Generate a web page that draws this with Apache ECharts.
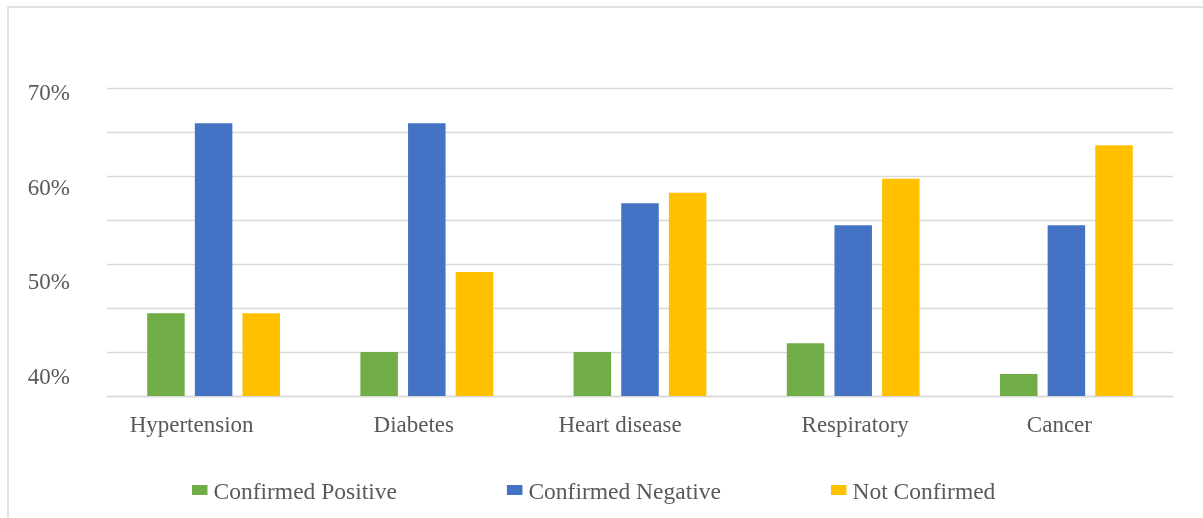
<!DOCTYPE html>
<html>
<head>
<meta charset="utf-8">
<title>Confirmation status by condition</title>
<script src="https://cdn.jsdelivr.net/npm/echarts@6/dist/echarts.min.js"></script>
<style>
  html, body { margin: 0; padding: 0; background: #ffffff; }
  #chart { width: 1203px; height: 518px; }
</style>
</head>
<body>
<div id="chart"></div>
<script>
// Conditions along the x axis
const categories = ['Hypertension', 'Diabetes', 'Heart disease', 'Respiratory', 'Cancer'];

// Share of respondents (%) per confirmation status
const confirmedPositive = [44.4, 40.0, 40.0, 41.0, 37.5];
const confirmedNegative = [66.0, 66.0, 56.9, 54.4, 54.4];
const notConfirmed      = [44.4, 49.1, 58.1, 59.7, 63.5];

const seriesNames = ['Confirmed Positive', 'Confirmed Negative', 'Not Confirmed'];

// Percent labels printed on the left axis
const yTickLabels = [40, 50, 60, 70];

// Styling
const TEXT = '#595959';
const GRID_LINE = '#d9d9d9';
const FONT = '"Liberation Serif", "Times New Roman", serif';
const COLORS = ['#70ad47', '#4472c4', '#ffc000'];

// Small horizontal nudges for the category captions (px, negative = left)
const captionShift = [-22, -13, -20, 2, -7];
const rich = {};
captionShift.forEach(function (d, i) {
  rich['c' + i] = {
    fontFamily: FONT, fontSize: 23, color: TEXT,
    padding: d < 0 ? [0, -2 * d, 0, 0] : [0, 0, 0, 2 * d]
  };
});

const chart = echarts.init(document.getElementById('chart'), null, { renderer: 'canvas' });

chart.setOption({
  backgroundColor: '#ffffff',
  animation: false,
  color: COLORS,
  textStyle: { fontFamily: FONT },
  graphic: [{
    type: 'rect',
    silent: true,
    z: -10,
    shape: { x: 8, y: 7, width: 1400, height: 700 },
    style: { fill: 'none', stroke: GRID_LINE, lineWidth: 1.5 }
  }],
  grid: { left: 107, right: 30, top: 88, bottom: 122, containLabel: false },
  legend: {
    data: seriesNames,
    left: 192,
    top: 481,
    padding: 0,
    itemWidth: 15.5,
    itemHeight: 10,
    itemGap: 110,
    icon: 'rect',
    formatter: function (name) { return '{t|' + name + '}'; },
    textStyle: {
      fontFamily: FONT, fontSize: 23.5, color: TEXT,
      rich: { t: { fontFamily: FONT, fontSize: 23.5, color: TEXT, padding: [6, 0, 0, 1] } }
    }
  },
  xAxis: {
    type: 'category',
    data: categories,
    axisTick: { show: false },
    axisLine: { show: true, lineStyle: { color: GRID_LINE, width: 1.3 } },
    axisLabel: {
      margin: 18,
      fontFamily: FONT,
      fontSize: 23,
      color: TEXT,
      interval: 0,
      formatter: function (value, index) { return '{c' + index + '|' + value + '}'; },
      rich: rich
    }
  },
  yAxis: [{
    // value scale that carries the bars and the gridlines
    type: 'value',
    min: 35,
    max: 70,
    interval: 5,
    axisLabel: { show: false },
    axisTick: { show: false },
    axisLine: { show: false },
    splitLine: { show: true, lineStyle: { color: GRID_LINE, width: 1.3 } }
  }, {
    // percent captions on the left
    type: 'value',
    position: 'left',
    min: 38.099,
    max: 70.634,
    axisTick: { show: false },
    axisLine: { show: false },
    splitLine: { show: false },
    axisLabel: {
      customValues: yTickLabels,
      margin: 37,
      fontFamily: FONT,
      fontSize: 23,
      color: TEXT,
      formatter: '{value}%'
    }
  }],
  series: [
    { name: seriesNames[0], type: 'bar', yAxisIndex: 0, data: confirmedPositive, barGap: '27%', barCategoryGap: '37.7%' },
    { name: seriesNames[1], type: 'bar', yAxisIndex: 0, data: confirmedNegative, barGap: '27%', barCategoryGap: '37.7%' },
    { name: seriesNames[2], type: 'bar', yAxisIndex: 0, data: notConfirmed,      barGap: '27%', barCategoryGap: '37.7%' }
  ]
});
</script>
</body>
</html>
